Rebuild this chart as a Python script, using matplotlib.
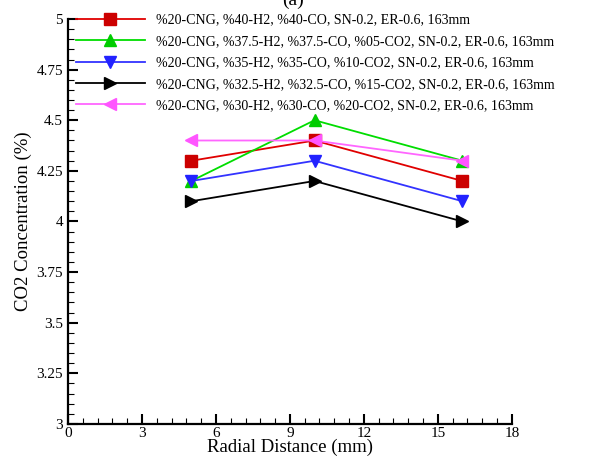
import matplotlib
matplotlib.use("Agg")
import matplotlib.pyplot as plt
from matplotlib.ticker import MultipleLocator

plt.rcParams['font.family'] = ['Liberation Serif', 'DejaVu Serif']

x = [5, 10, 16]
red = [4.3, 4.4, 4.2]
green = [4.2, 4.5, 4.3]
blue = [4.2, 4.3, 4.1]
black = [4.1, 4.2, 4.0]
magenta = [4.4, 4.4, 4.3]
labels = [
    "%20-CNG, %40-H2, %40-CO, SN-0.2, ER-0.6, 163mm",
    "%20-CNG, %37.5-H2, %37.5-CO, %05-CO2, SN-0.2, ER-0.6, 163mm",
    "%20-CNG, %35-H2, %35-CO, %10-CO2, SN-0.2, ER-0.6, 163mm",
    "%20-CNG, %32.5-H2, %32.5-CO, %15-CO2, SN-0.2, ER-0.6, 163mm",
    "%20-CNG, %30-H2, %30-CO, %20-CO2, SN-0.2, ER-0.6, 163mm",
]

fig = plt.figure(figsize=(5.91, 4.59), dpi=100)
ax = fig.add_axes([0.115, 0.0763, 0.751, 0.8823])

series = [
    (red, '#e00000', 's', '#cc0000'),
    (green, '#00dd00', '^', '#00cc00'),
    (blue, '#3333ff', 'v', '#2222ff'),
    (black, '#000000', '>', '#000000'),
    (magenta, '#ff66ff', '<', '#ff55ff'),
]
for (ys, c, m, fc), lab in zip(series, labels):
    ax.plot(x, ys, color=c, lw=1.3, marker=m, markersize=9, markerfacecolor=fc,
            markeredgecolor=fc, label=lab)

ax.set_xlim(0, 18)
ax.set_ylim(3, 5)
ax.xaxis.set_major_locator(MultipleLocator(3))
ax.xaxis.set_minor_locator(MultipleLocator(0.6))
ax.yaxis.set_minor_locator(MultipleLocator(0.05))
ax.set_yticks([3, 3.25, 3.5, 3.75, 4, 4.25, 4.5, 4.75, 5])
ax.set_yticklabels(['3', '3.25', '3.5', '3.75', '4', '4.25', '4.5', '4.75', '5'])
ax.tick_params(which='major', direction='in', length=7, width=1.5, labelsize=11)
ax.tick_params(which='minor', direction='in', length=4, width=0.8)
ax.tick_params(axis='x', pad=2)
for s in ['top', 'right']:
    ax.spines[s].set_visible(False)
for s in ['left', 'bottom']:
    ax.spines[s].set_linewidth(1.6)

ax.set_xlabel('Radial Distance (mm)', fontsize=13.5, labelpad=-1)
ax.set_ylabel('CO2 Concentration (%)', fontsize=13.5, labelpad=3)

leg = ax.legend(loc='upper left', bbox_to_anchor=(0.005, 1.027), frameon=False,
                fontsize=10.1, handlelength=4.9, handletextpad=0.8,
                labelspacing=0.6, borderaxespad=0)

fig.text(0.495, 1.0, '(a)', ha='center', va='center', fontsize=14)

fig.savefig('out.png', dpi=100)
